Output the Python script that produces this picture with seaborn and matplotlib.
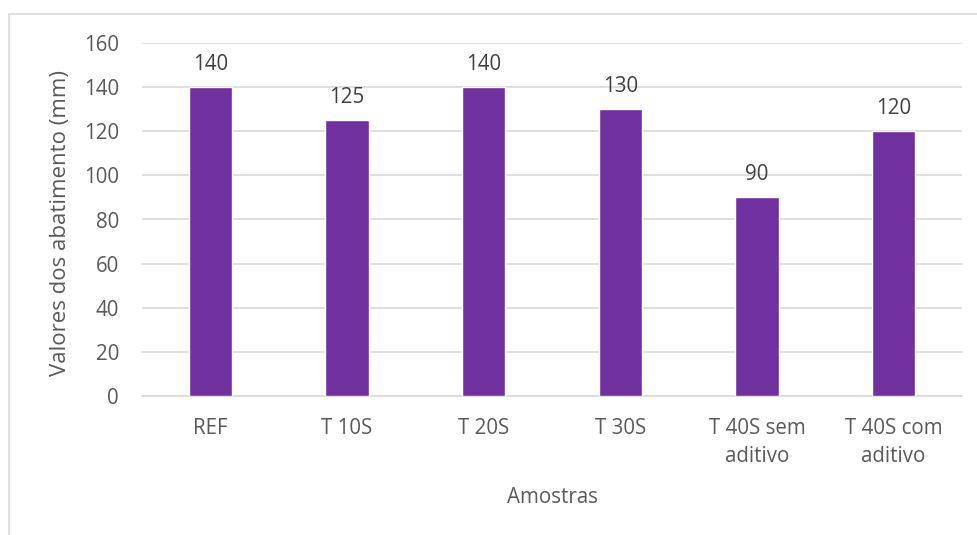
import matplotlib
matplotlib.use("Agg")
import matplotlib.pyplot as plt
import seaborn as sns
import pandas as pd
from matplotlib.lines import Line2D

categories = ["REF", "T 10S", "T 20S", "T 30S", "T 40S sem\naditivo", "T 40S com\naditivo"]
values = [140, 125, 140, 130, 90, 120]
yticks = [0, 20, 40, 60, 80, 100, 120, 140, 160]

sns.set_theme(style="white")
plt.rcParams['font.family'] = ['Open Sans', 'DejaVu Sans']

df = pd.DataFrame({"cat": categories, "val": values})

W, H = 977, 535
fig = plt.figure(figsize=(W/100, H/100), dpi=100)
ax = fig.add_axes([142/W, 1-396/H, (962-142)/W, (396-43)/H])

sns.barplot(data=df, x="cat", y="val", color="#7030A0", saturation=1, width=0.315, ax=ax, zorder=3)

ax.set_ylim(0, 160)
ax.set_yticks(yticks)
ax.set_xlim(-0.5, len(categories)-0.5)
ax.yaxis.grid(True, color="#d9d9d9", linewidth=1.2, zorder=0)
ax.set_axisbelow(True)
for s in ["top", "right", "left"]:
    ax.spines[s].set_visible(False)
ax.spines["bottom"].set_color("#d9d9d9")
ax.spines["bottom"].set_linewidth(1.2)
ax.tick_params(axis="both", length=0, colors="#595959", labelsize=14.8)
ax.tick_params(axis="y", pad=16.5)
ax.tick_params(axis="x", pad=16)
for lbl in ax.get_xticklabels():
    lbl.set_linespacing(1.45)

for c in ax.containers:
    ax.bar_label(c, labels=[str(v) for v in values], padding=9, color="#404040", fontsize=14.8)

ax.set_xlabel("Amostras", fontsize=14.8, color="#595959", labelpad=14)
ax.set_ylabel("Valores dos abatimento (mm)", fontsize=16, color="#595959")
ax.yaxis.set_label_coords(-0.086, 0.49)

fig.add_artist(Line2D([9/W, 9/W], [1-14/H, -0.05], transform=fig.transFigure, color="#d9d9d9", linewidth=1.2))
fig.add_artist(Line2D([9/W, 1.05], [1-14/H, 1-14/H], transform=fig.transFigure, color="#d9d9d9", linewidth=1.2))

fig.savefig("out.png", dpi=100)
